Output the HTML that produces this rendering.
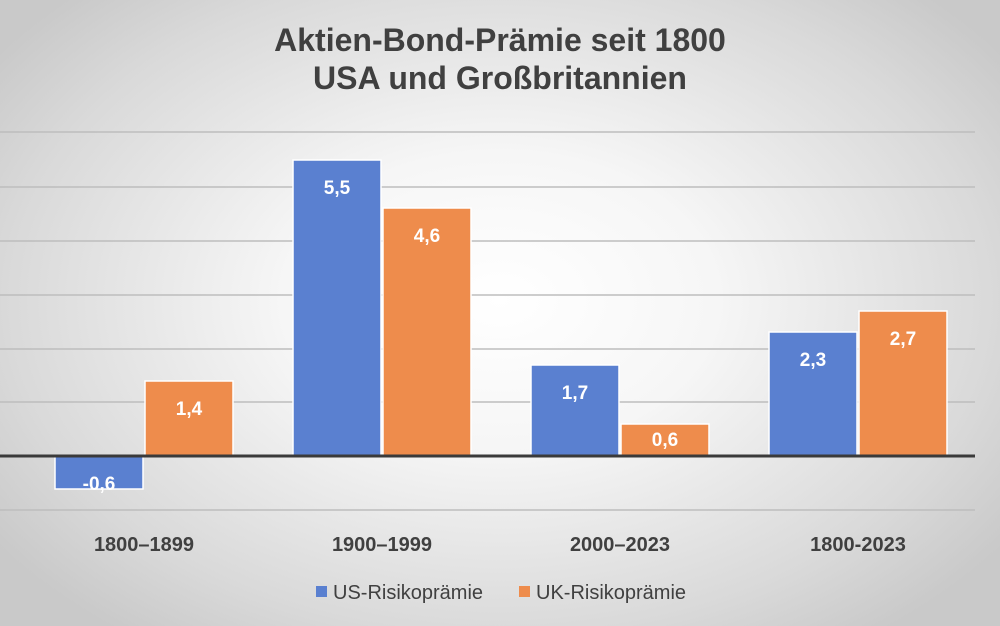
<!DOCTYPE html>
<html><head><meta charset="utf-8"><style>
body{margin:0;width:1000px;height:626px;overflow:hidden;font-family:"Liberation Sans","DejaVu Sans",sans-serif;}
#bg{position:absolute;left:0;top:0;width:1000px;height:626px;background:radial-gradient(ellipse 620px 420px at 500px 300px,#ffffff 0%,#f6f6f6 35%,#d9d9d9 80%,#c9c9c9 100%);}
</style></head><body><div id="bg"></div>
<svg width="1000" height="626" style="position:absolute;left:0;top:0" font-family="Liberation Sans, DejaVu Sans, sans-serif">
<text x="500" y="51" text-anchor="middle" font-size="32" font-weight="bold" fill="#404040">Aktien-Bond-Prämie seit 1800</text>
<text x="500" y="89" text-anchor="middle" font-size="32" font-weight="bold" fill="#404040">USA und Großbritannien</text>
<g stroke="#bdbdbd" stroke-width="1.5">
<line x1="0" x2="975" y1="132" y2="132"/><line x1="0" x2="975" y1="187" y2="187"/>
<line x1="0" x2="975" y1="241" y2="241"/><line x1="0" x2="975" y1="295" y2="295"/>
<line x1="0" x2="975" y1="349" y2="349"/><line x1="0" x2="975" y1="402" y2="402"/>
<line x1="0" x2="975" y1="510" y2="510"/></g>
<g stroke="#fff" stroke-width="1.5">
<rect x="55" y="456" width="88" height="33" fill="#5a80d0"/>
<rect x="145" y="381" width="88" height="75" fill="#ee8c4c"/>
<rect x="293" y="160" width="88" height="296" fill="#5a80d0"/>
<rect x="383" y="208" width="88" height="248" fill="#ee8c4c"/>
<rect x="531" y="365" width="88" height="91" fill="#5a80d0"/>
<rect x="621" y="424" width="88" height="32" fill="#ee8c4c"/>
<rect x="769" y="332" width="88" height="124" fill="#5a80d0"/>
<rect x="859" y="311" width="88" height="145" fill="#ee8c4c"/>
</g>
<line x1="0" x2="975" y1="456" y2="456" stroke="#3a3a3a" stroke-width="3"/>
<g font-size="19" font-weight="bold" fill="#fff" text-anchor="middle">
<text x="99" y="490">-0,6</text><text x="189" y="415">1,4</text>
<text x="337" y="194">5,5</text><text x="427" y="242">4,6</text>
<text x="575" y="399">1,7</text><text x="665" y="446">0,6</text>
<text x="813" y="366">2,3</text><text x="903" y="345">2,7</text>
</g>
<g font-size="20" font-weight="bold" fill="#404040" text-anchor="middle">
<text x="144" y="551">1800–1899</text><text x="382" y="551">1900–1999</text>
<text x="620" y="551">2000–2023</text><text x="858" y="551">1800-2023</text>
</g>
<rect x="316" y="586" width="11" height="11" fill="#5a80d0"/>
<text x="333" y="599" font-size="20" fill="#404040">US-Risikoprämie</text>
<rect x="519" y="586" width="11" height="11" fill="#ee8c4c"/>
<text x="536" y="599" font-size="20" fill="#404040">UK-Risikoprämie</text>
</svg></body></html>
